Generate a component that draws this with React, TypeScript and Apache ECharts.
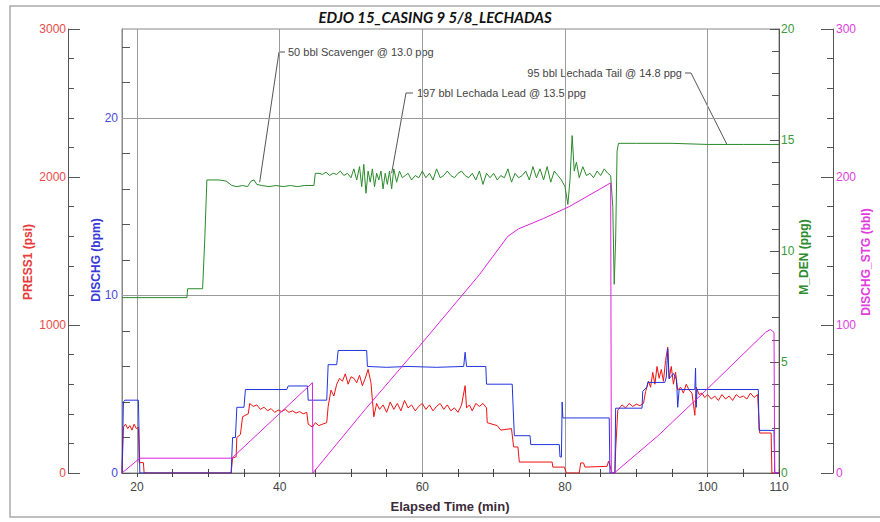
import React, { useEffect, useRef } from "react";
import * as echarts from "echarts";

const FONT = "'Liberation Sans', Arial, sans-serif";

const titleText = "EDJO 15_CASING 9 5/8_LECHADAS";
const xName = "Elapsed Time (min)";
const xMin = 17.9;
const xMax = 110;
const xLabelValues = [20, 40, 60, 80, 100, 110];
const xTickValues = [20, 25, 30, 35, 40, 45, 50, 55, 60, 65, 70, 75, 80, 85, 90, 95, 100, 105, 110];
const xGridValues = [20, 40, 60, 80, 100];
const dischgGridValues = [10, 20];

// PRESS1 (psi)
const pressData: number[][] = [
  [17.9, 0], [18.1, 310], [18.4, 330], [18.7, 300], [19.0, 320], [19.3, 290], [19.6, 330], [19.9, 300], [20.2, 310],
  [20.3, 70], [20.9, 70], [21.0, 0], [33.2, 0], [33.4, 100], [33.9, 110], [34.0, 240], [34.5, 260], [34.8, 380],
  [35.6, 400], [35.8, 470], [36.3, 450], [36.8, 460], [37.3, 430], [37.8, 445], [38.3, 420], [38.8, 435], [39.3, 410],
  [39.8, 425], [40.3, 415], [40.8, 430], [41.3, 410], [41.8, 420], [42.3, 405], [42.8, 415], [43.3, 400], [43.8, 410],
  [44.0, 330], [44.6, 310], [45.0, 340], [45.5, 320], [46.0, 330], [46.6, 340], [46.8, 450], [47.2, 560], [47.6, 520],
  [48.0, 600], [48.4, 640], [48.8, 620], [49.2, 670], [49.6, 600], [50.0, 650], [50.4, 640], [50.8, 610], [51.2, 660],
  [51.6, 590], [52.0, 640], [52.4, 700], [52.8, 610], [53.2, 380], [53.6, 470], [54.0, 430], [54.5, 460], [55.0, 410],
  [55.5, 480], [56.0, 430], [56.5, 470], [57.0, 420], [57.5, 490], [58.0, 440], [58.5, 460], [59.0, 420], [59.5, 450],
  [60.0, 470], [60.5, 430], [61.0, 460], [61.5, 420], [62.0, 450], [62.5, 470], [63.0, 430], [63.5, 460], [64.0, 420],
  [64.5, 440], [65.0, 410], [65.5, 460], [66.0, 590], [66.2, 440], [66.6, 460], [67.0, 420], [67.5, 470], [68.0, 450],
  [68.5, 470], [69.0, 440], [69.1, 340], [70.5, 320], [71.0, 290], [72.5, 300], [72.8, 176], [73.4, 176], [73.6, 74],
  [78.2, 74], [78.3, 40], [79.9, 40], [80.2, 0], [82.0, 0], [82.2, 68], [82.6, 68], [82.8, 40], [85.9, 45], [86.1, 80],
  [86.3, 50], [86.6, 0], [87.0, 0], [87.1, 155], [87.4, 425], [88.0, 460], [88.5, 440], [89.0, 470], [89.5, 450],
  [90.0, 465], [90.5, 455], [91.0, 470], [91.3, 550], [91.7, 620], [92.0, 580], [92.3, 680], [92.6, 600], [92.9, 720],
  [93.2, 640], [93.5, 700], [93.8, 620], [94.1, 760], [94.4, 850], [94.6, 640], [94.9, 720], [95.2, 600], [95.5, 680],
  [95.8, 560], [96.2, 580], [96.6, 540], [97.0, 600], [97.4, 560], [97.8, 540], [98.2, 390], [98.4, 580], [98.8, 530],
  [99.2, 540], [99.6, 510], [100.0, 530], [100.5, 500], [101.0, 520], [101.5, 490], [102.0, 530], [102.5, 500],
  [103.0, 520], [103.5, 490], [104.0, 530], [104.5, 510], [105.0, 520], [105.5, 500], [106.0, 540], [106.5, 510],
  [107.0, 530], [107.3, 270], [108.9, 270], [109.0, 0], [110, 0],
];

// DISCHG (bpm)
const dischgTime = [17.9, 18.1, 18.3, 20.2, 20.4, 33.2, 33.4, 33.8, 34.0, 35.0, 35.2, 41.0, 41.2, 43.9, 44.0, 46.6, 46.8, 48.0, 48.2, 52.2, 52.3, 55.0, 58.0, 62.0, 65.8, 66.0, 66.2, 68.9, 69.0, 72.6, 72.7, 72.9, 75.1, 75.2, 79.2, 79.3, 79.5, 79.6, 79.7, 86.2, 86.3, 87.0, 87.1, 90.8, 90.9, 91.5, 91.6, 94.0, 94.2, 94.4, 94.6, 95.2, 95.6, 95.7, 95.8, 96.0, 98.2, 98.3, 98.4, 98.5, 107.1, 107.2, 109.3, 109.4, 110];
const dischgVal = [0, 4.0, 4.1, 4.1, 0, 0, 2.0, 2.0, 3.7, 3.7, 4.7, 4.7, 4.9, 4.9, 4.1, 4.1, 6.1, 6.1, 6.9, 6.9, 6.0, 5.95, 6.0, 5.95, 6.0, 6.8, 6.0, 6.0, 5.0, 5.0, 4.0, 2.1, 2.1, 1.6, 1.6, 0.9, 0.9, 4.0, 3.1, 3.1, 0, 0, 3.65, 3.65, 4.6, 4.85, 5.1, 5.1, 5.4, 7.0, 5.3, 5.6, 5.3, 4.7, 3.7, 4.7, 4.7, 5.9, 3.7, 4.7, 4.7, 2.4, 2.4, 0, 0];

// M_DEN (ppg)
const denData: number[][] = [
  [17.9, 7.9], [27.0, 7.9], [27.1, 8.3], [29.2, 8.3], [29.5, 10.5], [29.8, 13.2], [31.5, 13.2], [32.5, 13.15], [33.3, 12.95],
  [34.0, 12.9], [34.8, 12.95], [35.5, 12.9], [36.0, 13.15], [36.4, 13.2], [36.8, 13.0], [37.5, 12.95], [38.5, 12.9],
  [39.5, 12.95], [40.5, 12.9], [41.5, 12.95], [42.5, 12.9], [43.5, 12.95], [44.8, 12.95], [45.0, 13.5], [45.5, 13.5],
  [46.0, 13.45], [46.5, 13.55], [47.0, 13.4], [47.5, 13.5], [48.0, 13.45], [48.5, 13.6], [49.0, 13.4], [49.5, 13.5],
  [50.0, 13.3], [50.4, 13.7], [50.8, 13.2], [51.2, 13.8], [51.5, 12.9], [51.8, 13.9], [52.1, 12.6], [52.4, 13.6],
  [52.7, 13.1], [53.0, 13.7], [53.3, 12.9], [53.6, 13.5], [53.9, 13.2], [54.2, 13.6], [54.5, 12.8], [54.8, 13.5],
  [55.1, 13.0], [55.4, 13.6], [55.7, 12.8], [56.0, 13.7], [56.4, 13.1], [56.8, 13.6], [57.2, 13.3], [57.6, 13.4],
  [58.0, 13.5], [58.5, 13.2], [59.0, 13.4], [59.5, 13.3], [60.0, 13.6], [60.5, 13.3], [61.0, 13.5], [61.5, 13.2],
  [62.0, 13.7], [62.5, 13.3], [63.0, 13.4], [63.5, 13.6], [64.0, 13.4], [64.5, 13.3], [65.0, 13.5], [65.5, 13.6],
  [66.0, 13.4], [66.5, 13.3], [67.0, 13.5], [67.5, 13.2], [68.0, 13.6], [68.5, 13.0], [69.0, 13.5], [69.5, 13.3],
  [70.0, 13.5], [70.5, 13.2], [71.0, 13.4], [71.5, 13.3], [72.0, 13.7], [72.5, 13.1], [73.0, 13.5], [73.5, 13.3],
  [74.0, 13.4], [74.5, 13.6], [75.0, 13.2], [75.5, 13.8], [76.0, 13.3], [76.5, 13.7], [77.0, 13.2], [77.5, 13.8],
  [78.0, 13.1], [78.5, 13.6], [79.0, 13.4], [79.5, 13.2], [80.0, 12.9], [80.4, 12.1], [80.7, 13.2], [81.0, 15.2],
  [81.3, 13.6], [81.6, 14.0], [82.0, 13.3], [82.5, 13.8], [83.0, 13.4], [83.5, 13.5], [84.0, 13.3], [84.5, 13.6],
  [85.0, 13.4], [85.5, 13.7], [86.0, 13.5], [86.4, 13.4], [86.7, 12.0], [86.9, 8.5], [87.1, 10.5], [87.3, 14.5],
  [87.5, 14.85], [90.0, 14.85], [95.0, 14.85], [100.0, 14.8], [105.0, 14.8], [110.0, 14.8],
];

// DISCHG_STG (bbl)
const stgTime = [17.9, 20.4, 33.3, 44.6, 44.65, 52.0, 60.0, 68.0, 72.0, 73.5, 77.0, 80.6, 86.4, 86.5, 86.9, 93.0, 100.0, 108.1, 108.8, 109.3, 109.4, 110];
const stgVal = [0, 10, 10, 61, 0, 43, 88, 134, 160, 165, 172, 180, 196, 0, 0, 25, 57, 95, 97, 95, 0, 0];

// annotations: label, anchor on M_DEN curve [time, ppg]
const annoTexts = ["50 bbl Scavenger @ 13.0 ppg", "197 bbl Lechada Lead @ 13.5 ppg", "95 bbl Lechada Tail @ 14.8 ppg"];
const annoAnchors = [[37.2, 13.1], [55.7, 13.5], [102.7, 14.8]];

const zip = (a: number[], b: number[]) => a.map((t, i) => [t, b[i]]);

export default function App() {
  const ref = useRef<HTMLDivElement>(null);
  useEffect(() => {
    document.body.style.margin = "0";
    const chart = echarts.init(ref.current as HTMLDivElement, null, { renderer: "svg" });
    const axisCol = "#666";
    const lineSeries = (name: string, data: number[][], yIdx: number, color: string, extra: any = {}) => ({
      name,
      type: "line",
      xAxisIndex: 0,
      yAxisIndex: yIdx,
      data,
      showSymbol: false,
      symbol: "none",
      silent: true,
      lineStyle: { color, width: 1 },
      ...extra,
    });
    // axis with fine ticks and labels only on major steps
    const fineAxis = (position: string, offset: number, max: number, step: number, major: number, color: string, len: number, margin: number, lineColor = "#555") => ({
      type: "value", position, offset, min: 0, max, interval: step,
      axisLine: { show: true, lineStyle: { color: lineColor } },
      axisTick: { show: true, inside: true, length: len, lineStyle: { color: "#555" } },
      axisLabel: {
        color, fontSize: 12, fontFamily: FONT, margin, showMaxLabel: max % major === 0,
        formatter: (v: number) => (Math.abs(v % major) < 1e-6 ? String(v) : ""),
      },
      splitLine: { show: false },
    });
    // overlay axis that only draws the longer major ticks
    const majorTicks = (position: string, offset: number, max: number, major: number, len: number) => ({
      type: "value", position, offset, min: 0, max, interval: major,
      axisLine: { show: false },
      axisTick: { show: true, inside: true, length: len, lineStyle: { color: "#555" } },
      axisLabel: { show: false },
      splitLine: { show: false },
    });
    const option: any = {
      animation: false,
      backgroundColor: "#fff",
      grid: { left: 122, right: 101, top: 29, bottom: 49, show: true, borderColor: "#888", borderWidth: 1 },
      xAxis: [
        {
          type: "value", position: "bottom", min: xMin, max: xMax,
          axisLine: { show: true, lineStyle: { color: axisCol } },
          axisTick: { show: true, inside: true, length: 4, customValues: xTickValues, lineStyle: { color: "#444" } },
          axisLabel: { show: true, customValues: xLabelValues, color: "#444", fontSize: 12, fontFamily: FONT, margin: 8 },
          splitLine: { show: false },
        },
        {
          type: "value", position: "top", min: xMin, max: xMax,
          axisLine: { show: true, lineStyle: { color: axisCol } },
          axisTick: { show: true, inside: true, length: 4, customValues: xTickValues, lineStyle: { color: "#444" } },
          axisLabel: { show: false },
          splitLine: { show: false },
        },
      ],
      yAxis: [
        fineAxis("left", 54, 3000, 200, 1000, "#e84a4a", 6, 2),
        fineAxis("left", 0, 25, 2, 10, "#4a4ae0", 8, 4, "#888"),
        fineAxis("right", 0, 20, 1, 5, "#3a9a3a", 7, 2),
        fineAxis("right", 54, 300, 20, 100, "#e040e0", 6, 3),
        majorTicks("left", 54, 3000, 1000, 12),
        majorTicks("right", 0, 20, 5, 9),
        majorTicks("right", 54, 300, 100, 12),
      ],
      series: [
        lineSeries("PRESS1", pressData, 0, "#ee1111"),
        lineSeries("DISCHG", zip(dischgTime, dischgVal), 1, "#2233dd", {
          markLine: {
            silent: true, symbol: ["none", "none"], z: 1, label: { show: false },
            lineStyle: { color: "#9a9a9a", type: "solid", width: 1 },
            data: [
              ...xGridValues.map((v) => ({ xAxis: v })),
              ...dischgGridValues.map((v) => ({ yAxis: v })),
            ],
          },
        }),
        lineSeries("M_DEN", denData, 2, "#2a8a2a"),
        lineSeries("DISCHG_STG", zip(stgTime, stgVal), 3, "#dd22dd"),
      ],
    };
    chart.setOption(option);

    const rotName = (text: string, x: number, y: number, fill: string) => ({
      type: "text", x, y, rotation: Math.PI / 2, silent: true,
      style: { text, fill, fontSize: 12, fontWeight: "bold", fontFamily: FONT, align: "center", verticalAlign: "middle" },
    });
    const end = annoAnchors.map((a) => chart.convertToPixel({ seriesIndex: 2 }, a) as number[]);
    const annoStyle = { fill: "#444", fontSize: 11, fontFamily: FONT, verticalAlign: "middle" };
    const leader = (pts: number[][]) => ({
      type: "polyline", silent: true, shape: { points: pts }, style: { stroke: "#555", lineWidth: 1, fill: "none" },
    });
    const graphic: any[] = [
      { type: "rect", silent: true, shape: { x: 10, y: 6, width: 880, height: 511 }, style: { fill: "none", stroke: "#aaa", lineWidth: 1.5 } },
      {
        type: "text", x: 435, y: 17, silent: true,
        style: { text: titleText, fill: "#111", fontSize: 15, fontWeight: "bold", fontStyle: "italic", fontFamily: "Lato, 'Open Sans', sans-serif", align: "center", verticalAlign: "middle" },
      },
      {
        type: "text", x: 450, y: 506, silent: true,
        style: { text: xName, fill: "#3a2a3a", fontSize: 13, fontWeight: "bold", fontFamily: FONT, align: "center", verticalAlign: "middle" },
      },
      rotName("PRESS1 (psi)", 28, 262, "#e83a3a"),
      rotName("DISCHG (bpm)", 96, 260, "#3a3ad8"),
      rotName("M_DEN (ppg)", 804, 257, "#2e8b2e"),
      rotName("DISCHG_STG (bbl)", 866, 262, "#e03ce0"),
      { type: "text", x: 288, y: 52, silent: true, style: { ...annoStyle, text: annoTexts[0], align: "left" } },
      leader([[285, 52], [279, 52], end[0]]),
      { type: "text", x: 417, y: 93, silent: true, style: { ...annoStyle, text: annoTexts[1], align: "left" } },
      leader([[413, 93], [406, 93], end[1]]),
      { type: "text", x: 682, y: 73, silent: true, style: { ...annoStyle, text: annoTexts[2], align: "right" } },
      leader([[685, 73], [691, 73], end[2]]),
    ];
    chart.setOption({ graphic });
    return () => chart.dispose();
  }, []);
  return <div ref={ref} style={{ width: 880, height: 522 }} />;
}
